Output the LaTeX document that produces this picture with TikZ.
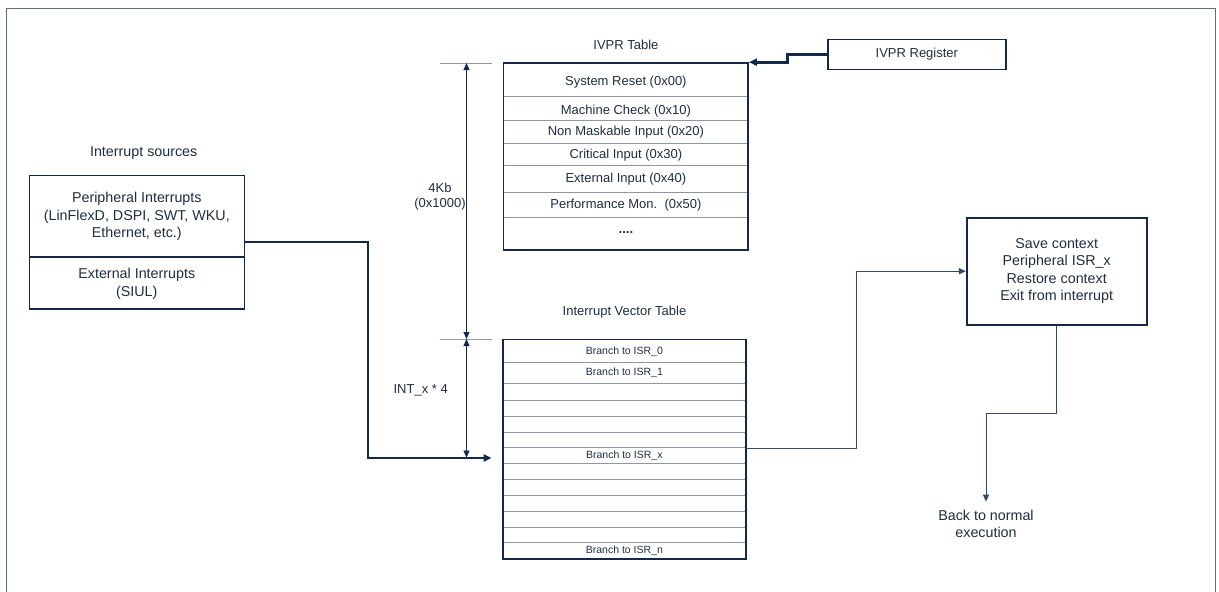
\documentclass[tikz,border=0pt]{standalone}
\usepackage{fontspec}
\setmainfont{Liberation Sans}
\usetikzlibrary{arrows.meta}
\definecolor{navy}{HTML}{14294A}
\definecolor{slate}{HTML}{34496A}
\definecolor{txt}{HTML}{1E2D40}
\definecolor{rowgrey}{HTML}{8C98A6}
\definecolor{framegrey}{HTML}{5E6E7E}
\begin{document}
\begin{tikzpicture}[x=1pt,y=-1pt,
  lbl/.style={text=txt, inner sep=0pt, align=center},
  big/.style={lbl, font=\fontsize{14.3}{17.6}\selectfont},
  mid/.style={lbl, font=\fontsize{13}{15}\selectfont},
  small/.style={lbl, font=\fontsize{10.5}{12}\selectfont},
  boxstyle/.style={draw=navy, line width=1.6pt, inner sep=0pt, fill=none},
  rowline/.style={draw=rowgrey, line width=0.9pt},
  thickarrow/.style={draw=navy, line width=2.6pt, -{Triangle[length=8pt,width=7pt]}},
  thinarrow/.style={draw=slate, line width=1.4pt, -{Triangle[length=7pt,width=6pt]}},
  hairarrow/.style={draw=slate, line width=1pt, -{Triangle[length=7pt,width=6pt]}},
  dimline/.style={draw=rowgrey, line width=1pt},
  dimarrow/.style={draw=navy, line width=0.9pt, {Triangle[length=7pt,width=6pt]}-{Triangle[length=7pt,width=6pt]}}
]
\useasboundingbox (0,0) rectangle (1219,592);
\clip (0,0) rectangle (1219,592);
% frame
\draw[framegrey, line width=1.3pt] (6.3,600) -- (6.3,8.3) -- (1215.7,8.3) -- (1215.7,600);

% ---------- IVPR table ----------
\node[mid] (ivprtitle) at (625.9,44.5) {IVPR Table};
\foreach \yy in {96.3,120.3,143.3,165.7,192.7,217.7}
  \draw[rowline] (503.6,\yy) -- (748.1,\yy);
\node[boxstyle, minimum width=244.5pt, minimum height=187pt] (ivpr) at (625.85,156.5) {};
\node[mid] (r0) at (625.9,82.3) {System Reset (0x00)};
\node[mid] (r1) at (625.9,111.3) {Machine Check (0x10)};
\node[mid] (r2) at (625.9,132) {Non Maskable Input (0x20)};
\node[mid] (r3) at (625.9,155.5) {Critical Input (0x30)};
\node[mid] (r4) at (625.9,179) {External Input (0x40)};
\node[mid] (r5) at (625.9,205) {Performance Mon.\ \ (0x50)};
\node[mid, font=\bfseries\fontsize{13}{15}\selectfont] (r6) at (625.9,232.5) {....};

% IVPR register
\node[boxstyle, minimum width=178.3pt, minimum height=30pt] (reg) at (916.85,54.3) {};
\node[mid] (regtxt) at (916.85,54.3) {IVPR Register};
\draw[thickarrow] (reg.west) -- (787.7,54.3) |- (ivpr.north east);

% ---------- dimension ----------
\draw[dimline] (440,63) -- (492,63);
\draw[dimline] (440,339) -- (492,339);
\coordinate (d1) at (466.5,63);
\coordinate (d2) at (466.5,339);
\coordinate (d3) at (466.5,457.5);
\draw[dimarrow] (d1) -- (d2);
\draw[dimarrow] (d2) -- (d3);
\node[mid, font=\fontsize{13}{15.5}\selectfont] (size4k) at (440,196.5) {4Kb\\(0x1000)};
\node[mid] (intx4) at (420.7,390.7) {INT\_x * 4};

% ---------- Interrupt vector table ----------
\node[mid] (vttitle) at (624.5,312) {Interrupt Vector Table};
\foreach \yy in {362.3,383.3,400.3,416.3,432,447.7,463.7,479.3,495.3,511,527,542.7}
  \draw[rowline] (502.7,\yy) -- (746,\yy);
\node[boxstyle, minimum width=243.3pt, minimum height=219.4pt] (vt) at (624.35,449) {};
\node[small] (b0) at (624.35,351.7) {Branch to ISR\_0};
\node[small] (b1) at (624.35,372.3) {Branch to ISR\_1};
\node[small] (bx) at (624.35,455.7) {Branch to ISR\_x};
\node[small] (bn) at (624.35,551.2) {Branch to ISR\_n};

% ---------- Interrupt sources ----------
\node[big] (srctitle) at (143.7,152.7) {Interrupt sources};
\draw[draw=navy, line width=1.2pt] (29.3,257) -- (244.3,257);
\node[boxstyle, minimum width=215pt, minimum height=133.4pt] (src) at (136.8,242) {};
\node[big] (perif) at (136.8,216.4) {Peripheral Interrupts\\(LinFlexD, DSPI, SWT, WKU,\\Ethernet, etc.)};
\node[big] (ext) at (136.8,283.8) {External Interrupts\\(SIUL)};
\coordinate (inx) at (491.7,458);
\draw[thickarrow] (src.east) -- (368,242) |- (inx);

% ---------- ISR box ----------
\node[boxstyle, minimum width=180pt, minimum height=107pt] (isr) at (1056.7,271.2) {};
\node[big] (isrtxt) at (1056.7,271) {Save context\\Peripheral ISR\_x\\Restore context\\Exit from interrupt};
\coordinate (vtx) at (746,448.5);
\draw[thinarrow] (vtx) -- (856.7,448.5) |- (isr.west);

% ---------- back to normal ----------
\coordinate (backtop) at (986,501.7);
\node[big] (back) at (986,523.8) {Back to normal\\execution};
\draw[hairarrow] (isr.south) -- (1056.7,413.3) -| (backtop);
\end{tikzpicture}
\end{document}
